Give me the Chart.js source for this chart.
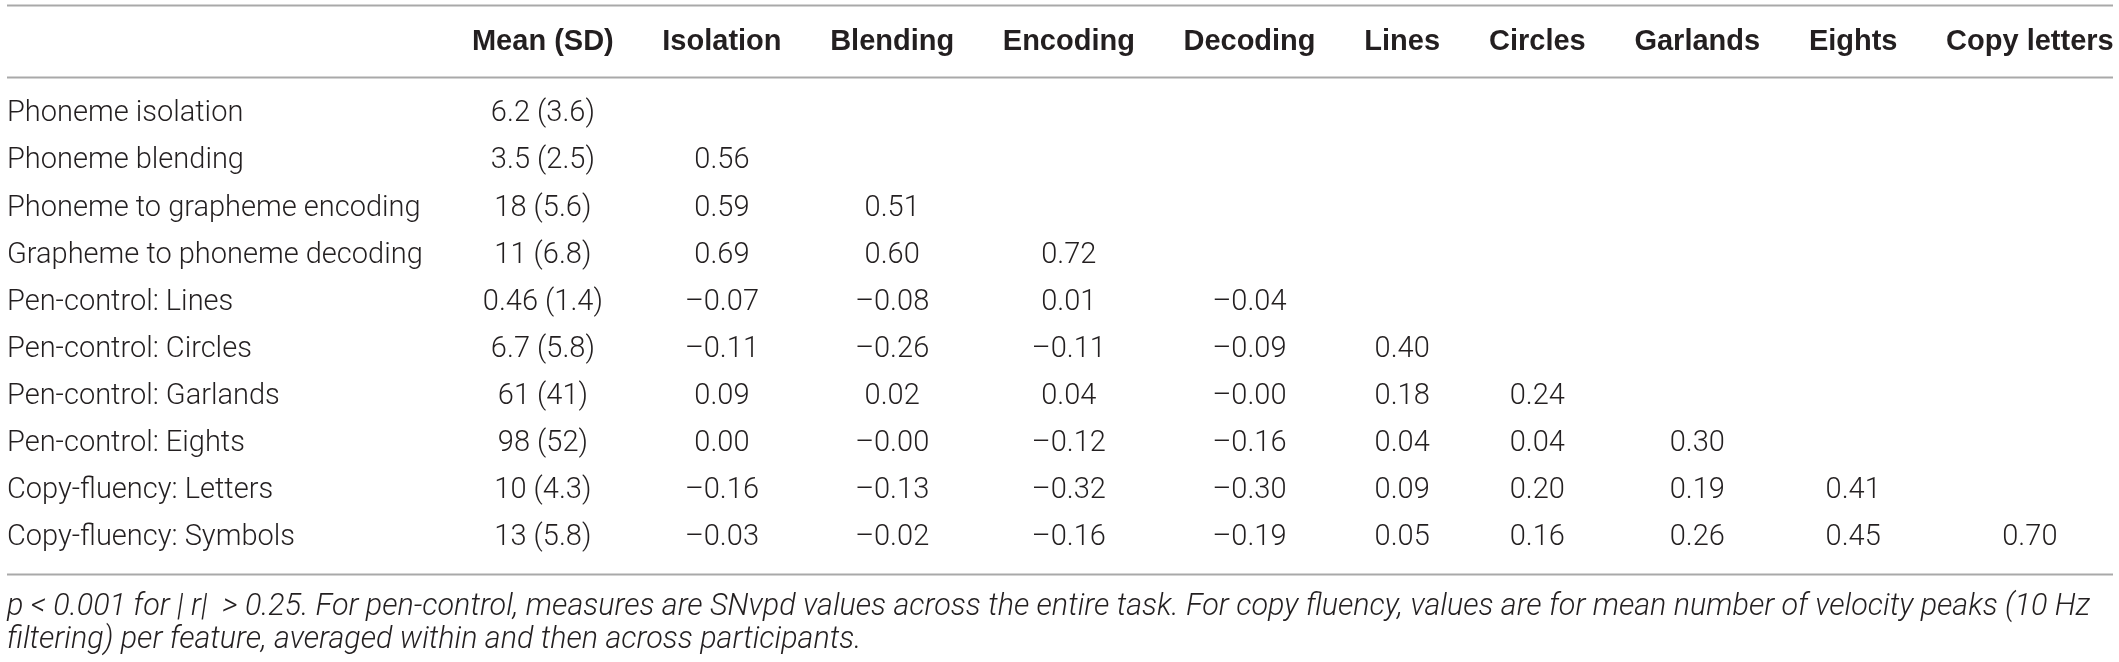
<!DOCTYPE html>
<html>
<head>
<meta charset="utf-8">
<script src="https://cdn.jsdelivr.net/npm/chart.js@4.4.1/dist/chart.umd.min.js"></script>
<style>
  html, body { margin: 0; padding: 0; background: #fff; }
</style>
</head>
<body>
<canvas id="corrTable" width="2119" height="662"></canvas>
<script>
const rowLabels = [
    'Phoneme isolation',
    'Phoneme blending',
    'Phoneme to grapheme encoding',
    'Grapheme to phoneme decoding',
    'Pen-control: Lines',
    'Pen-control: Circles',
    'Pen-control: Garlands',
    'Pen-control: Eights',
    'Copy-fluency: Letters',
    'Copy-fluency: Symbols'
]
const colLabels = ['Mean (SD)', 'Isolation', 'Blending', 'Encoding', 'Decoding', 'Lines', 'Circles', 'Garlands', 'Eights', 'Copy letters']

const means = [6.2, 3.5, 18, 11, 0.46, 6.7, 61, 98, 10, 13]
const sds = [3.6, 2.5, 5.6, 6.8, 1.4, 5.8, 41, 52, 4.3, 5.8]

// lower triangle, one array per row (-0 keeps the printed minus sign)
const corrRows = [
    [],
    [0.56],
    [0.59, 0.51],
    [0.69, 0.60, 0.72],
    [-0.07, -0.08, 0.01, -0.04],
    [-0.11, -0.26, -0.11, -0.09, 0.40],
    [0.09, 0.02, 0.04, -0.00, 0.18, 0.24],
    [0.00, -0.00, -0.12, -0.16, 0.04, 0.04, 0.30],
    [-0.16, -0.13, -0.32, -0.30, 0.09, 0.20, 0.19, 0.41],
    [-0.03, -0.02, -0.16, -0.19, 0.05, 0.16, 0.26, 0.45, 0.70]
]

const footnote = [
    'p < 0.001 for | r|  > 0.25. For pen-control, measures are SNvpd values across the entire task. For copy fluency, values are for mean number of velocity peaks (10 Hz',
    'filtering) per feature, averaged within and then across participants.'
]

const textColor = '#231f20'
const ruleColor = '#a9a9a9'
const bodyFont = { family: 'Roboto', size: 29, weight: 300 }
const headFont = { family: 'Liberation Sans', size: 29, weight: 'bold', lineHeight: 1.2 }
const noteFont = { family: 'Roboto', size: 30.5, weight: 300, style: 'italic', lineHeight: 1.08 }
const colGap = 50
const headerHeight = 90.5
const ruleInset = 13

function fmtCorr (v) {
    const neg = v < 0 || Object.is(v, -0)
    return (neg ? '\u2013' : '') + Math.abs(v).toFixed(2)
}

function cssFont (f) {
    return `${f.style || 'normal'} ${f.weight} ${f.size}px "${f.family}"`
}

// column widths come from the text, like an auto-sized table
const canvas = document.getElementById('corrTable')
const ctx = canvas.getContext('2d')
ctx.font = cssFont(headFont)
const colWidths = colLabels.map(l => ctx.measureText(l).width + colGap)
ctx.font = cssFont(bodyFont)
const labelColWidth = Math.max(...rowLabels.map(l => ctx.measureText(l).width)) + colGap / 2

const colCenters = []
let acc = 0
colWidths.forEach(w => { colCenters.push(acc + w / 2); acc += w })
const tableWidth = acc - colGap / 2

const cells = []
rowLabels.forEach((row, r) => {
    cells.push({ x: colCenters[0], y: row, text: `${means[r]} (${sds[r]})` })
    corrRows[r].forEach((v, c) => {
        cells.push({ x: colCenters[c + 1], y: row, text: fmtCorr(v) })
    })
})

const cellText = {
    id: 'cellText',
    afterDatasetsDraw (chart) {
        const c = chart.ctx
        const meta = chart.getDatasetMeta(0)
        c.save()
        c.font = cssFont(bodyFont)
        c.fillStyle = textColor
        c.textAlign = 'center'
        c.textBaseline = 'middle'
        meta.data.forEach((pt, i) => {
            c.fillText(chart.data.datasets[0].data[i].text, pt.x, pt.y)
        })
        c.restore()
    }
}

const tableRules = {
    id: 'tableRules',
    afterDraw (chart) {
        const c = chart.ctx
        const area = chart.chartArea
        const left = chart.scales.y.left
        const ys = [5.5, area.top - ruleInset, area.bottom + ruleInset]
        c.save()
        c.strokeStyle = ruleColor
        c.lineWidth = 2
        ys.forEach(y => {
            c.beginPath()
            c.moveTo(left, y)
            c.lineTo(area.right, y)
            c.stroke()
        })
        c.restore()
    }
}

const corrChart = new Chart(canvas, {
    type: 'scatter',
    data: {
        datasets: [{
            data: cells,
            pointRadius: 0,
            pointHoverRadius: 0
        }]
    },
    options: {
        responsive: false,
        devicePixelRatio: 1,
        animation: false,
        events: [],
        layout: {
            padding: { top: 0, left: 7, right: 6, bottom: 0 }
        },
        scales: {
            x: {
                type: 'linear',
                position: 'top',
                min: 0,
                max: tableWidth,
                afterBuildTicks: (scale) => {
                    scale.ticks = colCenters.map(v => ({ value: v }))
                },
                afterFit: (scale) => {
                    scale.height = headerHeight
                    scale.paddingLeft = 0
                    scale.paddingRight = 0
                },
                grid: { display: false, drawTicks: false },
                border: { display: false },
                ticks: {
                    autoSkip: false,
                    maxRotation: 0,
                    padding: 31,
                    color: textColor,
                    font: headFont,
                    callback: (val, i) => colLabels[i]
                }
            },
            y: {
                type: 'category',
                labels: rowLabels,
                offset: true,
                position: 'left',
                afterFit: (scale) => {
                    scale.width = labelColWidth
                    scale.paddingTop = 0
                    scale.paddingBottom = 0
                },
                grid: { display: false, drawTicks: false },
                border: { display: false },
                ticks: {
                    crossAlign: 'far',
                    padding: colGap / 2,
                    color: textColor,
                    font: bodyFont
                }
            }
        },
        plugins: {
            legend: { display: false },
            tooltip: { enabled: false },
            title: {
                display: true,
                position: 'bottom',
                align: 'start',
                text: footnote,
                color: textColor,
                font: noteFont,
                padding: { top: 29, bottom: 5.5 }
            }
        }
    },
    plugins: [cellText, tableRules]
})
</script>
</body>
</html>
